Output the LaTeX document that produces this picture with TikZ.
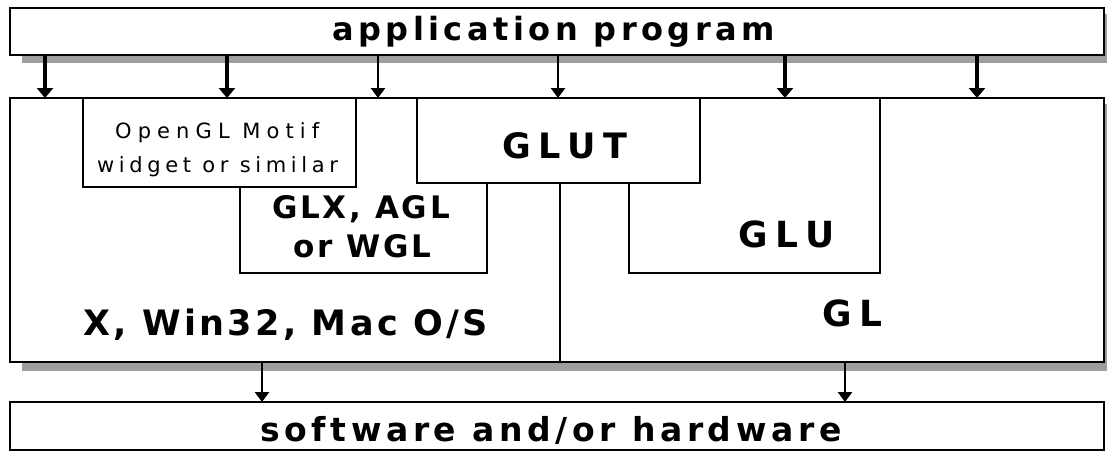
\documentclass[tikz,border=0pt]{standalone}
\usepackage{fontspec}
\setmainfont{DejaVu Sans}
\newfontfamily\fA[LetterSpace=14]{DejaVu Sans}
\newfontfamily\fX[LetterSpace=9.5]{DejaVu Sans}
\newfontfamily\fG[LetterSpace=9]{DejaVu Sans}
\newfontfamily\fU[LetterSpace=22]{DejaVu Sans}
\newfontfamily\fM[LetterSpace=22]{DejaVu Sans}
\newfontfamily\fMa[LetterSpace=29]{DejaVu Sans}
\usetikzlibrary{arrows.meta,backgrounds}
\definecolor{shadowgray}{gray}{0.62}
\begin{document}
\begin{tikzpicture}[x=1pt,y=-1pt,
  box/.style={draw, line width=2pt, fill=white, rectangle, inner sep=0pt, outer sep=0pt},
  lbl/.style={anchor=base west, inner sep=0pt},
  thickarr/.style={line width=4pt, -{Triangle[width=16pt,length=10pt]}},
  thinarr/.style={line width=2.5pt, -{Triangle[width=14pt,length=10pt]}},
  edge/.style={line width=2pt}]
\useasboundingbox (0,0) rectangle (1109,453);

% main boxes
\node[box, minimum width=1094pt, minimum height=47pt] (app) at (557,31.5) {};
\node[box, minimum width=1094pt, minimum height=264pt] (main) at (557,230) {};
\node[box, minimum width=1094pt, minimum height=48pt] (hw) at (557,426) {};
\node[box, minimum width=273pt, minimum height=89pt] (motif) at (219.5,142.5) {};
\node[box, minimum width=283pt, minimum height=85pt] (glut) at (558.5,140.5) {};

% shadows
\begin{scope}[on background layer]
\fill[shadowgray] ([shift={(12,8)}]app.south west) rectangle ([shift={(3,6)}]app.north east);
\fill[shadowgray] ([shift={(12,9)}]main.south west) rectangle ([shift={(3,6)}]main.north east);
\end{scope}

% helper coordinates
\coordinate (xglxL) at (240,0);
\coordinate (xglxR) at (487,0);
\coordinate (xdiv) at (560,0);
\coordinate (xgluL) at (629,0);
\coordinate (xgluR) at (880,0);
\coordinate (yinner) at (0,273);

% inner partitions
\draw[edge] (motif.south -| xglxL) -- (xglxL |- yinner) -- (xglxR |- yinner) -- (glut.south -| xglxR);
\draw[edge] (glut.south -| xdiv) -- (main.south -| xdiv);
\draw[edge] (glut.south -| xgluL) -- (xgluL |- yinner) -- (xgluR |- yinner) -- (main.north -| xgluR);

% arrows
\coordinate (a1) at (45,0);
\coordinate (a2) at (227,0);
\coordinate (a3) at (378,0);
\coordinate (a4) at (558,0);
\coordinate (a5) at (785,0);
\coordinate (a6) at (977,0);
\coordinate (b1) at (262,0);
\coordinate (b2) at (845,0);
\draw[thickarr] (app.south -| a1) -- (main.north -| a1);
\draw[thickarr] (app.south -| a2) -- (main.north -| a2);
\draw[thinarr] (app.south -| a3) -- (main.north -| a3);
\draw[thinarr] (app.south -| a4) -- (main.north -| a4);
\draw[thickarr] (app.south -| a5) -- (main.north -| a5);
\draw[thickarr] (app.south -| a6) -- (main.north -| a6);
\draw[thinarr] (main.south -| b1) -- (hw.north -| b1);
\draw[thinarr] (main.south -| b2) -- (hw.north -| b2);

% labels
\node[lbl, font=\fA\bfseries\fontsize{32}{40}\selectfont] (tapp) at (332,40) {application program};
\node[lbl, font=\fA\bfseries\fontsize{33}{40}\selectfont] (thw) at (260,441) {software and/or hardware};
\node[lbl, font=\fX\bfseries\fontsize{35}{40}\selectfont] (tos) at (83,335) {X, Win32, Mac O/S};
\node[lbl, font=\fG\bfseries\fontsize{31}{38}\selectfont] (tglxa) at (272,218) {GLX, AGL};
\node[lbl, font=\fG\bfseries\fontsize{31}{38}\selectfont] (tglxb) at (293,257) {or WGL};
\node[lbl, font=\fU\bfseries\fontsize{35}{40}\selectfont] (tglut) at (502,158) {GLUT};
\node[lbl, font=\fU\bfseries\fontsize{36}{40}\selectfont] (tglu) at (738,247) {GLU};
\node[lbl, font=\fU\bfseries\fontsize{36}{40}\selectfont] (tgl) at (822,326) {GL};
\node[lbl, font=\fMa\fontsize{21}{25}\selectfont] (tma) at (115,138) {OpenGL Motif};
\node[lbl, font=\fM\fontsize{21}{25}\selectfont] (tmb) at (97,172) {widget or similar};
\end{tikzpicture}
\end{document}
